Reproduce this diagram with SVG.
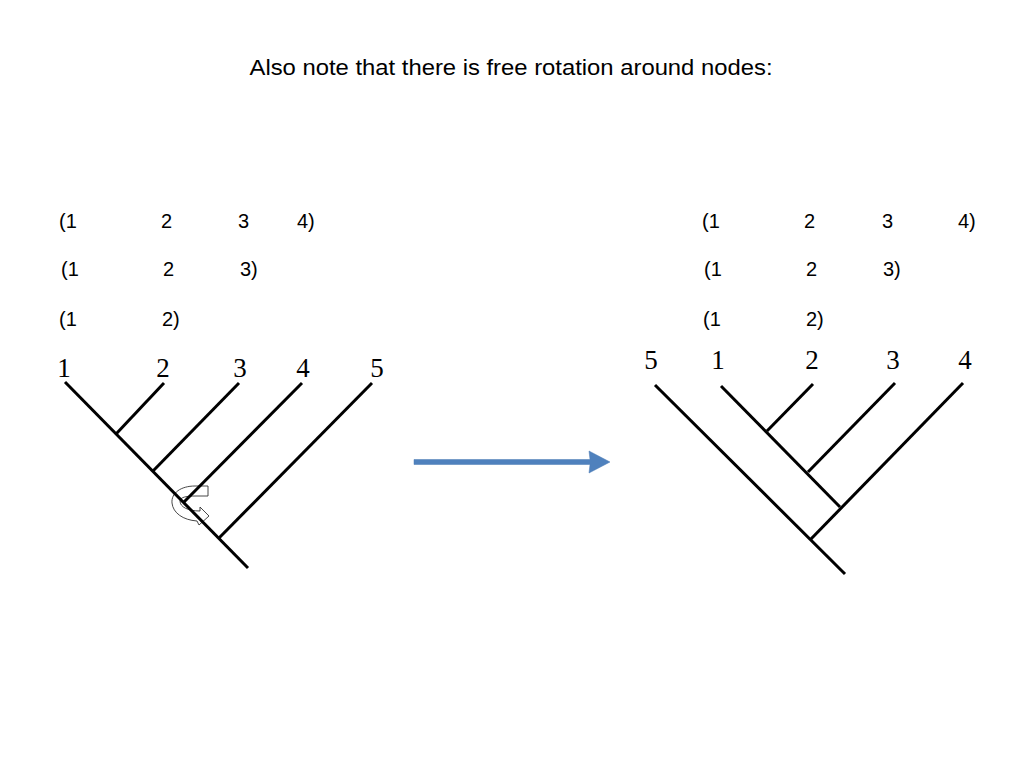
<svg xmlns="http://www.w3.org/2000/svg" width="1024" height="768" viewBox="0 0 1024 768">
<style>
.t{font-family:"Liberation Sans",Arial,sans-serif;font-size:20px;fill:#000}
.n{font-family:"Liberation Serif","Times New Roman",serif;font-size:27px;fill:#000}
.br{stroke:#000;stroke-width:3;stroke-linecap:butt;fill:none}
</style>
<rect width="1024" height="768" fill="#fff"/>
<text x="511" y="75" text-anchor="middle" font-family="Liberation Sans, Arial, sans-serif" font-size="22" textLength="523" lengthAdjust="spacingAndGlyphs">Also note that there is free rotation around nodes:</text>

<g id="left-groups">
<text class="t" x="59" y="228">(1</text><text class="t" x="161" y="228">2</text><text class="t" x="238" y="228">3</text><text class="t" x="297" y="228">4)</text>
<text class="t" x="61" y="276">(1</text><text class="t" x="163" y="276">2</text><text class="t" x="240" y="276">3)</text>
<text class="t" x="59" y="326">(1</text><text class="t" x="162" y="326">2)</text>
</g>
<g id="right-groups">
<text class="t" x="702" y="228">(1</text><text class="t" x="804" y="228">2</text><text class="t" x="882" y="228">3</text><text class="t" x="958" y="228">4)</text>
<text class="t" x="704" y="276">(1</text><text class="t" x="806" y="276">2</text><text class="t" x="883" y="276">3)</text>
<text class="t" x="703" y="326">(1</text><text class="t" x="806" y="326">2)</text>
</g>

<g id="left-tree">
<path id="rotation-icon" d="M208,486 L195,486 C181,486 171,493 172,503 C173,513 183,520 197,521 L199,525 L209,516 L200,507 L200,511 C188,511 180,507 180,501 C180,497 187,496 196,496 L208,496 Z" fill="#fff" stroke="#333" stroke-width="0.9"/>
<line class="br" x1="65" y1="382" x2="248" y2="568"/>
<line class="br" x1="164" y1="383" x2="116" y2="434"/>
<line class="br" x1="239" y1="383" x2="153" y2="471"/>
<line class="br" x1="302" y1="383" x2="183" y2="503"/>
<line class="br" x1="372" y1="383" x2="219" y2="538"/>
<text class="n" x="64" y="377" text-anchor="middle">1</text>
<text class="n" x="163" y="377" text-anchor="middle">2</text>
<text class="n" x="240" y="377" text-anchor="middle">3</text>
<text class="n" x="303" y="377" text-anchor="middle">4</text>
<text class="n" x="377" y="377" text-anchor="middle">5</text>
</g>

<g id="arrow">
<polygon points="414,459.5 590,459.5 589,451 610,462 589,473 590,464.5 414,464.5" fill="#4F81BD" stroke="#4a7ab4" stroke-width="0.5"/>
</g>

<g id="right-tree">
<line class="br" x1="655" y1="385" x2="845" y2="574"/>
<line class="br" x1="721" y1="386" x2="840" y2="507"/>
<line class="br" x1="813" y1="384" x2="767" y2="431"/>
<line class="br" x1="895" y1="383" x2="808" y2="472"/>
<line class="br" x1="963" y1="383" x2="810" y2="540"/>
<text class="n" x="651" y="369" text-anchor="middle">5</text>
<text class="n" x="718" y="369" text-anchor="middle">1</text>
<text class="n" x="812" y="369" text-anchor="middle">2</text>
<text class="n" x="893" y="369" text-anchor="middle">3</text>
<text class="n" x="965" y="369" text-anchor="middle">4</text>
</g>
</svg>
